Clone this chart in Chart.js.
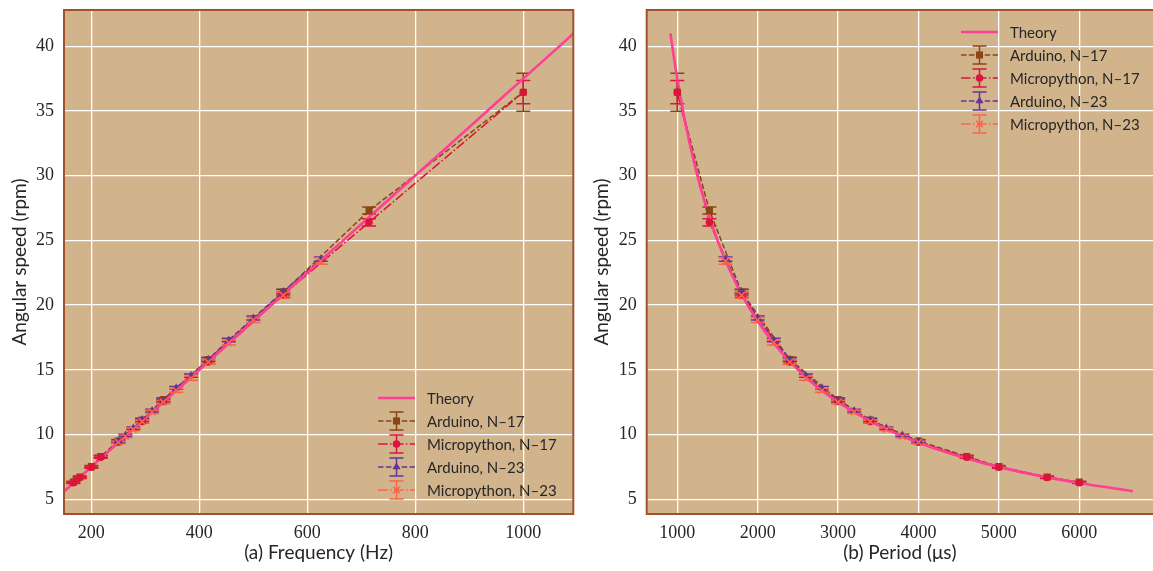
<!DOCTYPE html>
<html>
<head>
<meta charset="utf-8">
<script src="https://cdn.jsdelivr.net/npm/chart.js@4.4.1/dist/chart.umd.min.js"></script>
<style>
  html, body { margin: 0; padding: 0; background: #ffffff; }
  #wrap { position: relative; width: 1153px; height: 571px; overflow: hidden; }
  #freqChart { position: absolute; left: 0; top: 0; }
  #periodChart { position: absolute; left: 590px; top: 0; }
</style>
</head>
<body>
<div id="wrap">
  <canvas id="freqChart" width="590" height="571"></canvas>
  <canvas id="periodChart" width="565" height="571"></canvas>
</div>
<script>
// ---- Measured angular speed (rpm) against step period (µs) ----
const periodN17 = [1000, 1400, 1800, 2400, 3000, 3400, 4000, 4600, 5000, 5600, 6000];
const arduinoN17 = [36.45, 27.3, 21.0, 15.8, 12.7, 11.12, 9.5, 8.3, 7.52, 6.72, 6.32];
const arduinoN17Err = [1.47, 0.27, 0.22, 0.18, 0.15, 0.13, 0.11, 0.1, 0.09, 0.08, 0.07];
const micropythonN17 = [36.45, 26.4, 20.8, 15.6, 12.55, 11.0, 9.4, 8.25, 7.48, 6.68, 6.28];
const micropythonN17Err = [0.9, 0.28, 0.2, 0.17, 0.14, 0.12, 0.1, 0.09, 0.08, 0.07, 0.07];

const periodN23 = [1600, 1800, 2000, 2200, 2400, 2600, 2800, 3000, 3200, 3400, 3600, 3800, 4000];
const arduinoN23 = [23.55, 21.05, 19.0, 17.3, 15.8, 14.55, 13.6, 12.65, 11.85, 11.15, 10.5, 9.95, 9.5];
const arduinoN23Err = [0.17, 0.16, 0.15, 0.14, 0.13, 0.12, 0.11, 0.1, 0.1, 0.09, 0.09, 0.08, 0.08];
const micropythonN23 = [23.4, 20.75, 18.85, 17.1, 15.6, 14.35, 13.4, 12.5, 11.75, 11.0, 10.4, 9.85, 9.4];
const micropythonN23Err = [0.25, 0.22, 0.2, 0.18, 0.17, 0.15, 0.14, 0.13, 0.12, 0.11, 0.1, 0.1, 0.09];

// Theoretical curve (1600 microsteps per revolution), sampled along the period axis
const theoryPeriod = [915, 950, 1000, 1100, 1200, 1300, 1400, 1500, 1600, 1800, 2000, 2200, 2400, 2700, 3000, 3400, 3800, 4300, 4800, 5400, 6000, 6667];
const theoryRpm = [40.98, 39.47, 37.5, 34.09, 31.25, 28.85, 26.79, 25.0, 23.44, 20.83, 18.75, 17.05, 15.63, 13.89, 12.5, 11.03, 9.87, 8.72, 7.81, 6.94, 6.25, 5.62];

// Axis ticks
const rpmTicks = [5, 10, 15, 20, 25, 30, 35, 40];
const freqTicks = [200, 400, 600, 800, 1000];
const periodTicks = [1000, 2000, 3000, 4000, 5000, 6000];

// ---- Styling ----
const BG = '#D2B48C';
const SPINE = '#A0522D';
const TEXT = '#262626';
const TICK_FONT = { family: '"Liberation Serif", "DejaVu Serif", serif', size: 18 };
const LABEL_FONT = '19px Lato, "DejaVu Sans", sans-serif';
const LEGEND_FONT = '15px Lato, "DejaVu Sans", sans-serif';
const DASHED = [5.5, 2.4];
const DASH_DOT = [9.6, 2.4, 1.5, 2.4];

const series = [
  { label: 'Arduino, N–17', period: periodN17, rpm: arduinoN17, err: arduinoN17Err, color: '#8B4513', dash: DASHED, marker: 'rect' },
  { label: 'Micropython, N–17', period: periodN17, rpm: micropythonN17, err: micropythonN17Err, color: '#DC143C', dash: DASH_DOT, marker: 'circle' },
  { label: 'Arduino, N–23', period: periodN23, rpm: arduinoN23, err: arduinoN23Err, color: '#663399', dash: DASHED, marker: 'triangle' },
  { label: 'Micropython, N–23', period: periodN23, rpm: micropythonN23, err: micropythonN23Err, color: '#FF6347', dash: DASH_DOT, marker: 'crossRot' }
];
const theoryStyle = { label: 'Theory', color: '#FF3E96', width: 2.6 };
const markerRadius = { rect: 5, circle: 3.8, triangle: 4.6, crossRot: 4.6 };
const CAP = 7;

// ---- Plugins ----
const plotBackground = {
  id: 'plotBackground',
  beforeDraw(chart) {
    const { ctx, chartArea: a } = chart;
    ctx.save();
    ctx.fillStyle = BG;
    ctx.fillRect(a.left, a.top, a.right - a.left, a.bottom - a.top);
    ctx.restore();
  },
  afterDraw(chart) {
    const { ctx, chartArea: a } = chart;
    ctx.save();
    ctx.strokeStyle = SPINE;
    ctx.lineWidth = 2;
    ctx.strokeRect(a.left, a.top, a.right - a.left, a.bottom - a.top);
    ctx.restore();
  }
};

const errorBars = {
  id: 'errorBars',
  beforeDatasetDraw(chart, args) {
    const ds = chart.data.datasets[args.index];
    if (!ds.errColor) return;
    const { ctx } = chart;
    const xs = chart.scales.x, ys = chart.scales.y;
    ctx.save();
    ctx.strokeStyle = ds.errColor;
    ctx.lineWidth = 1.5;
    ctx.setLineDash([]);
    ds.data.forEach(p => {
      const px = xs.getPixelForValue(p.x);
      const yTop = ys.getPixelForValue(p.y + p.e);
      const yBot = ys.getPixelForValue(p.y - p.e);
      ctx.beginPath();
      ctx.moveTo(px, yTop); ctx.lineTo(px, yBot);
      ctx.moveTo(px - CAP, yTop); ctx.lineTo(px + CAP, yTop);
      ctx.moveTo(px - CAP, yBot); ctx.lineTo(px + CAP, yBot);
      ctx.stroke();
    });
    ctx.restore();
  }
};

function drawMarker(ctx, style, x, y, color) {
  const r = markerRadius[style];
  ctx.save();
  ctx.fillStyle = color;
  ctx.strokeStyle = color;
  ctx.setLineDash([]);
  ctx.beginPath();
  if (style === 'rect') {
    const s = r * Math.SQRT1_2;
    ctx.rect(x - s, y - s, 2 * s, 2 * s);
    ctx.fill();
  } else if (style === 'circle') {
    ctx.arc(x, y, r, 0, Math.PI * 2);
    ctx.fill();
  } else if (style === 'triangle') {
    ctx.moveTo(x, y - r);
    ctx.lineTo(x + r * 0.87, y + r * 0.5);
    ctx.lineTo(x - r * 0.87, y + r * 0.5);
    ctx.closePath();
    ctx.fill();
  } else {
    const s = r * Math.SQRT1_2;
    ctx.lineWidth = 1.6;
    ctx.moveTo(x - s, y - s); ctx.lineTo(x + s, y + s);
    ctx.moveTo(x + s, y - s); ctx.lineTo(x - s, y + s);
    ctx.stroke();
  }
  ctx.restore();
}

const glyphLegend = {
  id: 'glyphLegend',
  afterDraw(chart, args, opts) {
    const { ctx } = chart;
    const x0 = opts.x, y0 = opts.y, row = opts.row, len = 37;
    const xc = x0 + len / 2;
    ctx.save();
    ctx.font = LEGEND_FONT;
    ctx.fillStyle = TEXT;
    ctx.textBaseline = 'middle';
    ctx.textAlign = 'left';
    // theory entry
    ctx.strokeStyle = theoryStyle.color;
    ctx.lineWidth = theoryStyle.width;
    ctx.beginPath(); ctx.moveTo(x0, y0); ctx.lineTo(x0 + len, y0); ctx.stroke();
    ctx.fillText(theoryStyle.label, x0 + len + 12, y0 + 1);
    series.forEach((s, i) => {
      const y = y0 + row * (i + 1);
      ctx.strokeStyle = s.color;
      ctx.lineWidth = 1.5;
      ctx.setLineDash(s.dash);
      ctx.beginPath(); ctx.moveTo(x0, y); ctx.lineTo(x0 + len, y); ctx.stroke();
      ctx.setLineDash([]);
      ctx.beginPath();
      ctx.moveTo(xc, y - 9); ctx.lineTo(xc, y + 9);
      ctx.moveTo(xc - CAP, y - 9); ctx.lineTo(xc + CAP, y - 9);
      ctx.moveTo(xc - CAP, y + 9); ctx.lineTo(xc + CAP, y + 9);
      ctx.stroke();
      drawMarker(ctx, s.marker, xc, y, s.color);
      ctx.fillText(s.label, x0 + len + 12, y + 1);
    });
    ctx.restore();
  }
};

const axisTitles = {
  id: 'axisTitles',
  afterDraw(chart, args, opts) {
    const { ctx } = chart;
    ctx.save();
    ctx.font = LABEL_FONT;
    ctx.fillStyle = TEXT;
    ctx.textAlign = 'center';
    ctx.textBaseline = 'middle';
    ctx.fillText(opts.xTitle, opts.xTitleX, opts.xTitleY);
    ctx.translate(opts.yTitleX, opts.yTitleY);
    ctx.rotate(-Math.PI / 2);
    ctx.fillText(opts.yTitle, 0, 0);
    ctx.restore();
  }
};

// ---- Chart builder ----
function buildChart(canvasId, toX, cfg) {
  const datasets = [];
  series.forEach((s, k) => {
    const pts = s.period
      .map((p, i) => ({ x: toX(p), y: s.rpm[i], e: s.err[i] }))
      .sort((a, b) => a.x - b.x);
    // connecting line + error bars (later series drawn above earlier ones)
    datasets.push({
      label: s.label, data: pts, showLine: true, borderColor: s.color, borderWidth: 1.5,
      borderDash: s.dash, pointRadius: 0, errColor: s.color, order: 3.9 - k * 0.1
    });
    // markers on top of the theory curve
    datasets.push({
      label: s.label, data: pts, showLine: false, pointStyle: s.marker,
      pointRadius: markerRadius[s.marker], backgroundColor: s.color, borderColor: s.color,
      pointBorderWidth: s.marker === 'crossRot' ? 1.6 : 0, order: 1.9 - k * 0.1
    });
  });
  const theoryPts = theoryPeriod
    .map((p, i) => ({ x: toX(p), y: theoryRpm[i] }))
    .sort((a, b) => a.x - b.x);
  datasets.push({
    label: theoryStyle.label, data: theoryPts, showLine: true, borderColor: theoryStyle.color,
    borderWidth: theoryStyle.width, pointRadius: 0, cubicInterpolationMode: 'monotone', order: 2.5
  });

  const grid = { color: '#FFFFFF', lineWidth: 1.3, drawTicks: false };
  return new Chart(document.getElementById(canvasId), {
    type: 'scatter',
    data: { datasets },
    options: {
      responsive: false,
      animation: false,
      events: [],
      layout: { autoPadding: false, padding: { top: 10, right: cfg.padRight, left: 0, bottom: 0 } },
      scales: {
        x: {
          type: 'linear', min: cfg.xMin, max: cfg.xMax,
          afterBuildTicks: sc => { sc.ticks = cfg.xTicks.map(v => ({ value: v })); },
          afterFit: sc => { sc.height = 57; sc.paddingLeft = 0; sc.paddingRight = 0; },
          grid, border: { display: false },
          ticks: { font: TICK_FONT, color: TEXT, padding: 8, autoSkip: false, maxRotation: 0, callback: v => String(v) }
        },
        y: {
          type: 'linear', min: 3.86, max: 42.8,
          afterBuildTicks: sc => { sc.ticks = rpmTicks.map(v => ({ value: v })); },
          afterFit: sc => { sc.width = cfg.yWidth; sc.paddingTop = 0; sc.paddingBottom = 0; },
          grid, border: { display: false },
          ticks: { font: TICK_FONT, color: TEXT, padding: 10, autoSkip: false, callback: v => String(v) }
        }
      },
      plugins: {
        legend: { display: false },
        tooltip: { enabled: false },
        glyphLegend: cfg.legend,
        axisTitles: cfg.titles
      }
    },
    plugins: [plotBackground, errorBars, glyphLegend, axisTitles]
  });
}

// (a) angular speed against step frequency (Hz)
buildChart('freqChart', p => 1e6 / p, {
  xMin: 149.4, xMax: 1092.6, xTicks: freqTicks, yWidth: 64, padRight: 590 - 573.3,
  legend: { x: 378, y: 398, row: 23 },
  titles: { xTitle: '(a) Frequency (Hz)', xTitleX: 318.6, xTitleY: 553, yTitle: 'Angular speed (rpm)', yTitleX: 20, yTitleY: 262 }
});

// (b) angular speed against step period (µs); the frame runs slightly past the page edge
buildChart('periodChart', p => p, {
  xMin: 619.4, xMax: 6942, xTicks: periodTicks, yWidth: 56.7, padRight: 0,
  legend: { x: 961 - 590, y: 32, row: 23 },
  titles: { xTitle: '(b) Period (μs)', xTitleX: 309.9, xTitleY: 553, yTitle: 'Angular speed (rpm)', yTitleX: 12, yTitleY: 262 }
});
</script>
</body>
</html>
